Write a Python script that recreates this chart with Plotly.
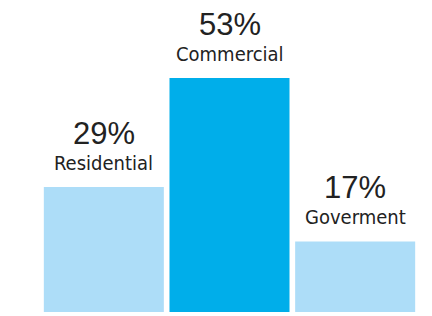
import plotly.graph_objects as go

categories = ["Residential", "Commercial", "Goverment"]
values = [29, 53, 17]
pct_labels = ["29%", "53%", "17%"]
colors = ["#ADDDF8", "#00AEEA", "#ADDDF8"]

fig = go.Figure(go.Bar(x=categories, y=values, marker=dict(color=colors, line=dict(width=0)),
                       hoverinfo="skip"))

anns = []
for c, v, p in zip(categories, values, pct_labels):
    anns.append(dict(x=c, y=v, text=c, showarrow=False, yanchor="bottom", yshift=10,
                     font=dict(family="DejaVu Sans Condensed", size=20, color="#222222")))
    anns.append(dict(x=c, y=v, text=p, showarrow=False, yanchor="bottom", yshift=34,
                     font=dict(family="Liberation Sans", size=31, color="#222222")))

fig.update_layout(
    width=424, height=308,
    margin=dict(l=33, r=14, t=0, b=4),
    paper_bgcolor="white", plot_bgcolor="white",
    bargap=0.045, showlegend=False,
    xaxis=dict(visible=False),
    yaxis=dict(visible=False, range=[1.46, 68.42]),
    annotations=anns,
)
fig.write_html("out.html")
